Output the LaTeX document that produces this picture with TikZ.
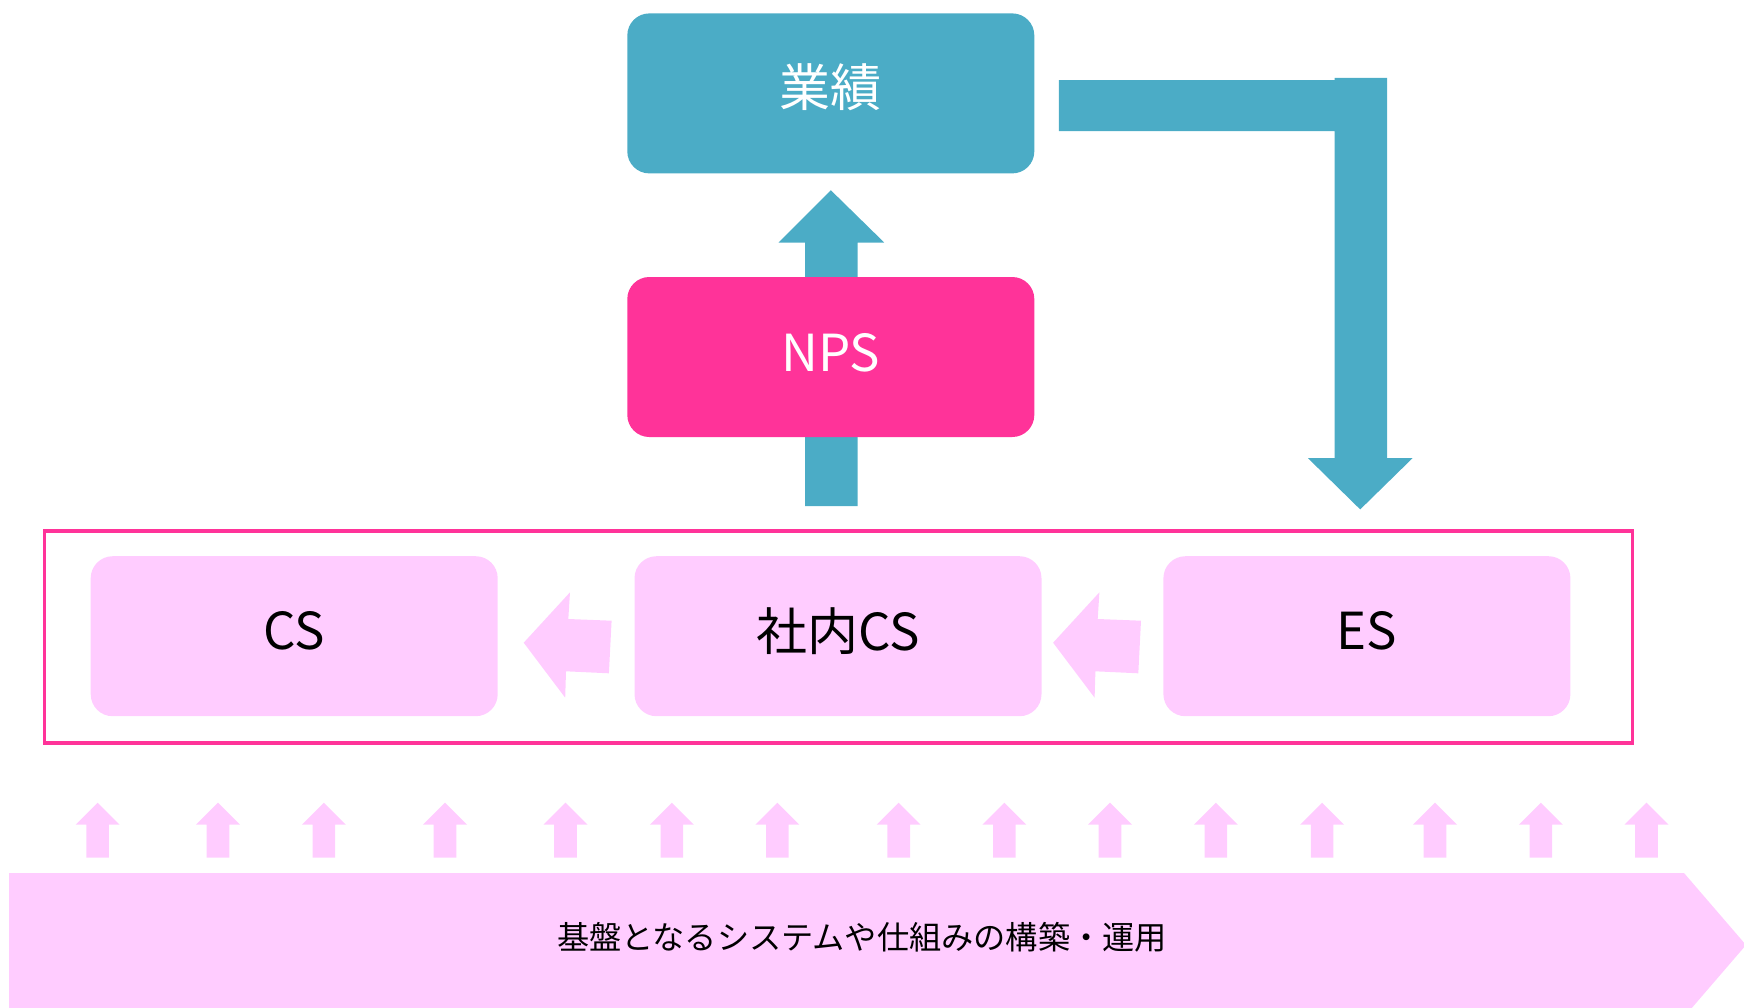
\documentclass[tikz,border=0pt]{standalone}
\usepackage{fontspec}
\setmainfont{Noto Sans CJK JP}
\definecolor{teal}{HTML}{4BACC6}
\definecolor{hotpink}{HTML}{FF3399}
\definecolor{lightpink}{HTML}{FFCCFF}
\tikzset{
  box/.style={rounded corners=22pt, minimum width=407pt, minimum height=160pt, inner sep=0pt},
  bigtext/.style={font=\fontsize{51}{60}\selectfont, inner sep=0pt},
}
\begin{document}
\begin{tikzpicture}[x=1pt,y=-1pt]
\useasboundingbox (0,0) rectangle (1744,1007);
\clip (0,0) rectangle (1744,1007);
% up arrow NPS -> performance
\fill[teal] (805.2,506) -- (805.2,242.5) -- (778.5,242.5) -- (830.8,190.2) -- (884.2,242.5) -- (857.5,242.5) -- (857.5,506) -- cycle;
% bent arrow
\fill[teal] (1058.8,80) -- (1334.6,80) -- (1334.6,77.9) -- (1387,77.9) -- (1387,458.2) -- (1412.5,458.2) -- (1360.2,509.4) -- (1308,458.2) -- (1334.6,458.2) -- (1334.6,131.2) -- (1058.8,131.2) -- cycle;
% top boxes
\node[box, fill=teal] (perf) at (830.8,93.4) {};
\node[bigtext, text=white] (perft) at ([yshift=6.5pt]perf.center) {業績};
\node[box, fill=hotpink] (nps) at (830.8,357) {};
\node[bigtext, text=white] (npst) at ([yshift=4.5pt]nps.center) {NPS};
% frame
\node[draw=hotpink, line width=3.5pt, minimum width=1588pt, minimum height=212pt, inner sep=0pt] (frame) at (838.6,636.8) {};
% lower boxes
\node[box, fill=lightpink] (cs) at (294.2,636.2) {};
\node[bigtext] (cst) at ([yshift=5.5pt]cs.center) {CS};
\node[box, fill=lightpink] (ics) at (838,636.2) {};
\node[bigtext] (icst) at ([yshift=5.5pt]ics.center) {社内CS};
\node[box, fill=lightpink] (es) at (1366.9,636.2) {};
\node[bigtext] (est) at ([yshift=5.5pt]es.center) {ES};
% left arrows
\foreach \dx in {0,529.4}{
  \fill[lightpink, shift={(\dx,0)}] (523.7,642.7) -- (570,592.3) -- (568.3,619) -- (611.6,620.7) -- (608.9,673.3) -- (566,671.3) -- (565.2,697.7) -- cycle;
}
% small up arrows
\foreach \cx in {97.6,218,323.9,445,565.5,671.8,777.4,898.7,1004.3,1110,1215.8,1322.1,1435,1540.9,1646.5}{
  \fill[lightpink] (\cx-11.3,857.7) -- (\cx-11.3,824.7) -- (\cx-22,824.7) -- (\cx,802.7) -- (\cx+22,824.7) -- (\cx+11.3,824.7) -- (\cx+11.3,857.7) -- cycle;
}
% banner
\fill[lightpink] (9,873) -- (1684,873) -- (1746,945) -- (1684,1017) -- (9,1017) -- cycle;
\node[font=\fontsize{32.2}{36}\selectfont, text=black] (base) at (862,937.6) {基盤となるシステムや仕組みの構築・運用};
\end{tikzpicture}
\end{document}
